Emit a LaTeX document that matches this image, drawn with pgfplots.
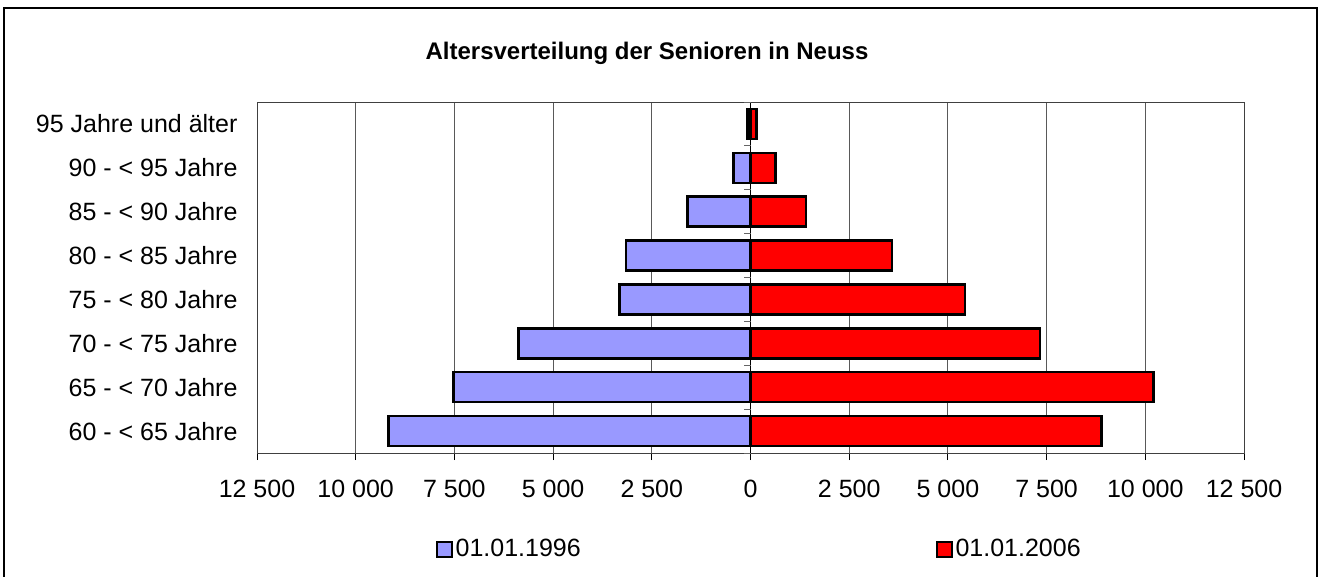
\documentclass[border=0pt]{standalone}
\usepackage{pgfplots}
\pgfplotsset{compat=1.18}
\usepackage{fontspec}
\setmainfont{Liberation Sans}
\definecolor{lav}{HTML}{9999FF}
\definecolor{redb}{HTML}{FF0000}

\pgfplotstableread{
y v
1 -9175
2 -7525
3 -5880
4 -3315
5 -3155
6 -1600
7 -430
8 -75
}\tabA
\pgfplotstableread{
y v
1 8895
2 10205
3 7335
4 5435
5 3585
6 1410
7 635
8 150
}\tabB

\begin{document}
\fontsize{25bp}{30bp}\selectfont
\begin{tikzpicture}
\useasboundingbox (0,0) rectangle (1319bp,-577bp);
\fill[white] (0,0) rectangle (1319bp,-577bp);
\draw[line width=2bp] (4bp,-8bp) rectangle (1317bp,-585bp);
\node[font=\bfseries\fontsize{24bp}{28bp}\selectfont] at (647bp,-53bp) {Altersverteilung der Senioren in Neuss};
\begin{axis}[
  at={(257bp,-453bp)}, anchor=south west,
  scale only axis, width=987bp, height=351bp,
  xmin=-12500, xmax=12500, ymin=0.5, ymax=8.5,
  scaled x ticks=false,
  xtick={-12500,-10000,-7500,-5000,-2500,0,2500,5000,7500,10000,12500},
  xticklabels={\mbox{12 500},\mbox{10 000},\mbox{7 500},\mbox{5 000},\mbox{2 500},\mbox{0},\mbox{2 500},\mbox{5 000},\mbox{7 500},\mbox{10 000},\mbox{12 500}},
  ytick={1,2,3,4,5,6,7,8},
  yticklabels={\mbox{60 - < 65 Jahre},\mbox{65 - < 70 Jahre},\mbox{70 - < 75 Jahre},\mbox{75 - < 80 Jahre},\mbox{80 - < 85 Jahre},\mbox{85 - < 90 Jahre},\mbox{90 - < 95 Jahre},\mbox{95 Jahre und älter}},
  xmajorgrids,
  grid style={black!65, line width=1bp},
  axis line style={black!75, line width=1bp},
  tick align=outside,
  xtick pos=lower,
  major tick length=7bp,
  ytick style={draw=none},
  xtick style={black, line width=1bp},
  xticklabel style={font=\fontsize{25bp}{30bp}\selectfont, yshift=-12bp},
  yticklabel style={font=\fontsize{25bp}{30bp}\selectfont, xshift=-4bp},
  legend columns=2,
  legend style={at={(axis description cs:0.178,-0.276)}, anchor=west, draw=none, fill=none,
    font=\fontsize{25bp}{30bp}\selectfont,
    nodes={inner sep=0pt, inner xsep=3bp},
    /tikz/every even column/.append style={column sep=352bp}},
  legend image code/.code={\draw[#1, line width=1.8bp] (0bp,-7.5bp) rectangle (15bp,7.5bp);},
]
\addplot[xbar, bar width=30bp, bar shift=0pt, fill=lav, draw=black, line width=2.5bp] table[x=v, y=y] {\tabA};
\addlegendentry{01.01.1996}
\addplot[xbar, bar width=30bp, bar shift=0pt, fill=redb, draw=black, line width=2.5bp] table[x=v, y=y] {\tabB};
\addlegendentry{01.01.2006}
\draw[black, line width=1bp] (axis cs:0,0.5) -- (axis cs:0,8.5);
\pgfplotsinvokeforeach{0.5,1.5,2.5,3.5,4.5,5.5,6.5,7.5,8.5}{
  \draw[black!60, line width=1bp] (axis cs:0,#1) -- ++(-7bp,0pt);
}
\end{axis}
\end{tikzpicture}
\end{document}
